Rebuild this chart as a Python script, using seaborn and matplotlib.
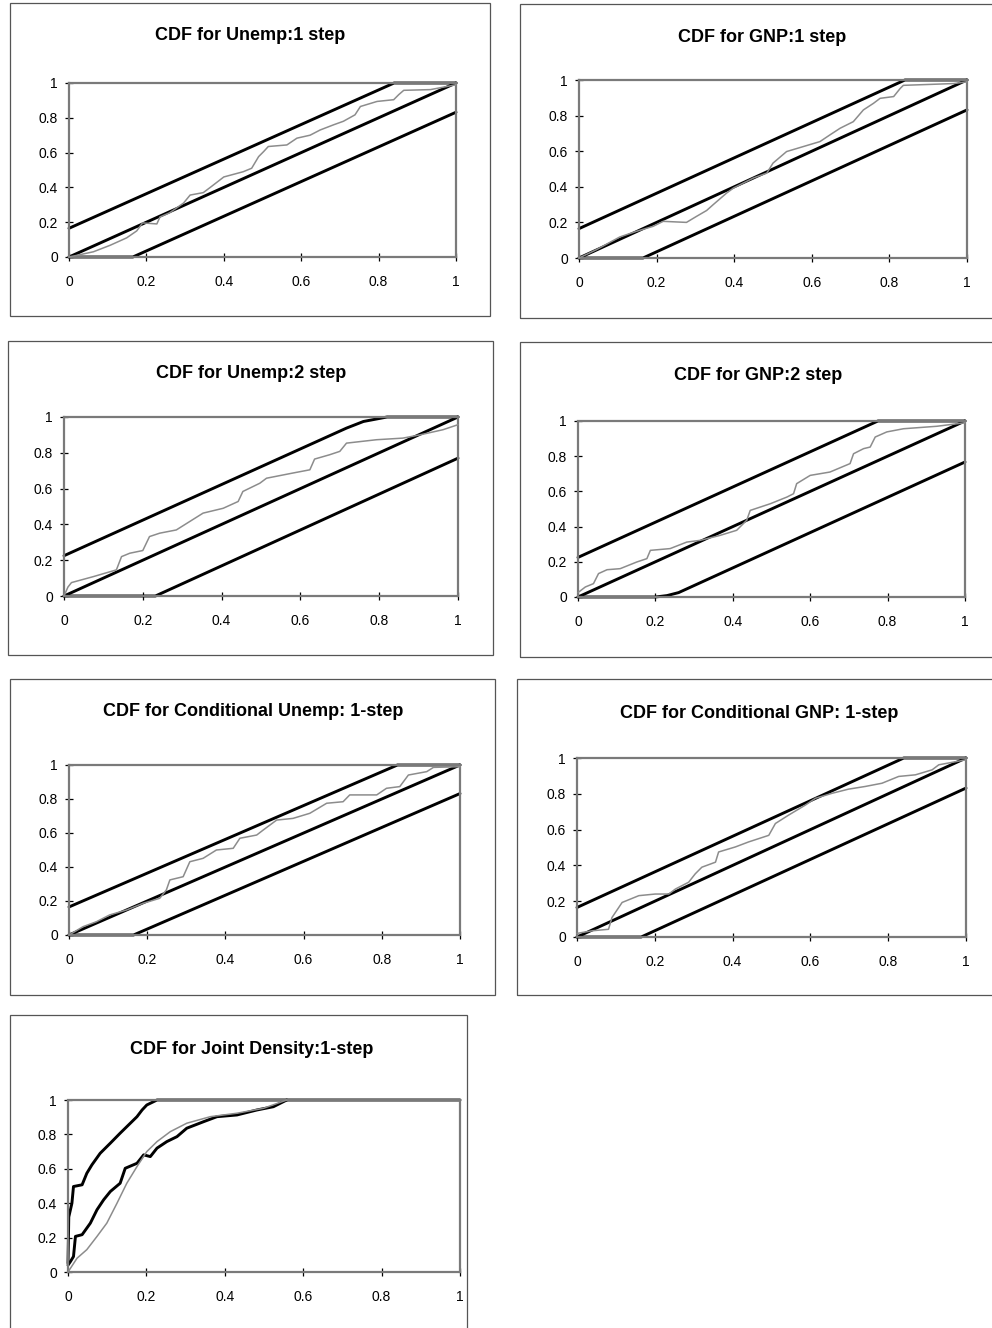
import numpy as np
import matplotlib
matplotlib.use("Agg")
import matplotlib.pyplot as plt
import seaborn as sns
import pandas as pd
from matplotlib.patches import Rectangle

sns.set_style("white")
plt.rcParams['font.family'] = ['Liberation Sans', 'DejaVu Sans']
plt.rcParams['text.color'] = 'black'
plt.rcParams['xtick.color'] = 'black'
plt.rcParams['ytick.color'] = 'black'

W, H = 992, 1328

# ---- data ----
ticks = [0, 0.2, 0.4, 0.6, 0.8, 1]
tick_labels = ['0', '0.2', '0.4', '0.6', '0.8', '1']

titles = ['CDF for Unemp:1 step', 'CDF for GNP:1 step',
          'CDF for Unemp:2 step', 'CDF for GNP:2 step',
          'CDF for Conditional Unemp: 1-step', 'CDF for Conditional GNP: 1-step',
          'CDF for Joint Density:1-step']

diag_x = [0, 1]
diag_y = [0, 1]

band1_upper_x = [0, 0.84, 1]
band1_upper_y = [0.165, 1, 1]
band1_lower_x = [0, 0.165, 1]
band1_lower_y = [0, 0, 0.832]

band_u2_upper_x = [0, 0.717, 0.76, 0.82, 1]
band_u2_upper_y = [0.225, 0.938, 0.975, 1, 1]
band_u2_lower_x = [0, 0.232, 1]
band_u2_lower_y = [0, 0, 0.77]

band_g2_upper_x = [0, 0.76, 0.775, 1]
band_g2_upper_y = [0.225, 0.985, 1, 1]
band_g2_lower_x = [0, 0.2, 0.23, 0.26, 1]
band_g2_lower_y = [0, 0, 0.008, 0.025, 0.767]

unemp1_x = [0, 0.063, 0.106, 0.149, 0.175, 0.19, 0.227, 0.235, 0.26, 0.296, 0.313, 0.347,
            0.365, 0.40, 0.45, 0.472, 0.49, 0.503, 0.515, 0.563, 0.589, 0.623, 0.649, 0.684,
            0.709, 0.739, 0.753, 0.796, 0.839, 0.852, 0.865, 0.934, 1]
unemp1_y = [0, 0.03, 0.067, 0.11, 0.15, 0.196, 0.19, 0.23, 0.254, 0.31, 0.356, 0.37,
            0.40, 0.46, 0.49, 0.51, 0.577, 0.606, 0.635, 0.644, 0.683, 0.70, 0.73, 0.76,
            0.78, 0.817, 0.865, 0.894, 0.904, 0.933, 0.958, 0.962, 0.99]

gnp1_x = [0, 0.045, 0.105, 0.148, 0.191, 0.217, 0.277, 0.303, 0.329, 0.346, 0.38, 0.398,
          0.449, 0.484, 0.50, 0.535, 0.578, 0.621, 0.647, 0.673, 0.707, 0.733, 0.759,
          0.776, 0.811, 0.828, 0.836, 0.966, 1]
gnp1_y = [0, 0.047, 0.118, 0.15, 0.178, 0.206, 0.20, 0.234, 0.267, 0.30, 0.364, 0.393,
          0.449, 0.477, 0.533, 0.598, 0.626, 0.654, 0.692, 0.729, 0.766, 0.832, 0.869,
          0.897, 0.907, 0.953, 0.97, 0.98, 0.99]

unemp2_x = [0, 0.01, 0.019, 0.074, 0.133, 0.146, 0.167, 0.20, 0.217, 0.243, 0.285, 0.319,
            0.353, 0.404, 0.442, 0.454, 0.497, 0.514, 0.581, 0.624, 0.636, 0.674, 0.70,
            0.717, 0.793, 0.86, 0.903, 0.962, 1]
unemp2_y = [0, 0.05, 0.075, 0.108, 0.146, 0.22, 0.239, 0.254, 0.332, 0.351, 0.369, 0.416,
            0.463, 0.49, 0.528, 0.584, 0.63, 0.658, 0.687, 0.705, 0.765, 0.789, 0.808,
            0.854, 0.873, 0.882, 0.90, 0.929, 0.957]

gnp2_x = [0, 0.019, 0.04, 0.053, 0.075, 0.109, 0.152, 0.178, 0.187, 0.238, 0.281, 0.316,
          0.367, 0.41, 0.436, 0.445, 0.497, 0.54, 0.557, 0.565, 0.60, 0.651, 0.703, 0.712,
          0.738, 0.755, 0.768, 0.798, 0.841, 0.927, 1]
gnp2_y = [0.025, 0.057, 0.076, 0.133, 0.155, 0.161, 0.199, 0.218, 0.265, 0.275, 0.312, 0.322,
          0.35, 0.379, 0.436, 0.492, 0.53, 0.568, 0.587, 0.644, 0.691, 0.71, 0.758, 0.814,
          0.843, 0.852, 0.909, 0.938, 0.956, 0.97, 0.99]

cunemp_x = [0, 0.036, 0.07, 0.104, 0.147, 0.189, 0.232, 0.249, 0.258, 0.292, 0.309, 0.343,
            0.377, 0.42, 0.437, 0.48, 0.497, 0.531, 0.573, 0.616, 0.659, 0.701, 0.718,
            0.787, 0.812, 0.846, 0.868, 0.915, 0.932, 1]
cunemp_y = [0, 0.049, 0.078, 0.118, 0.147, 0.186, 0.216, 0.265, 0.324, 0.343, 0.431, 0.451,
            0.50, 0.51, 0.569, 0.588, 0.618, 0.676, 0.686, 0.716, 0.775, 0.784, 0.824,
            0.824, 0.863, 0.873, 0.941, 0.961, 0.986, 0.99]

cgnp_x = [0, 0.04, 0.081, 0.09, 0.116, 0.159, 0.201, 0.236, 0.253, 0.287, 0.304, 0.321,
          0.356, 0.364, 0.407, 0.441, 0.493, 0.51, 0.544, 0.587, 0.613, 0.656, 0.698,
          0.741, 0.784, 0.827, 0.87, 0.913, 0.93, 1]
cgnp_y = [0.02, 0.035, 0.043, 0.109, 0.193, 0.231, 0.24, 0.24, 0.268, 0.306, 0.353, 0.39,
          0.418, 0.475, 0.503, 0.531, 0.568, 0.634, 0.681, 0.737, 0.775, 0.803, 0.826,
          0.841, 0.859, 0.897, 0.906, 0.934, 0.962, 0.99]

joint_hi_x = [0, 0.002, 0.01, 0.014, 0.036, 0.048, 0.061, 0.082, 0.108, 0.133, 0.146,
              0.176, 0.189, 0.201, 0.227, 1]
joint_hi_y = [0.05, 0.32, 0.40, 0.497, 0.507, 0.574, 0.623, 0.69, 0.749, 0.807, 0.836,
              0.903, 0.942, 0.971, 1.0, 1.0]

joint_mid_x = [0, 0.006, 0.014, 0.019, 0.036, 0.057, 0.074, 0.091, 0.108, 0.133, 0.146,
               0.176, 0.193, 0.21, 0.227, 0.252, 0.278, 0.303, 0.346, 0.38, 0.431, 0.482,
               0.524, 0.558]
joint_mid_y = [0.04, 0.06, 0.09, 0.207, 0.217, 0.284, 0.362, 0.42, 0.468, 0.516, 0.603,
               0.632, 0.681, 0.671, 0.72, 0.758, 0.787, 0.836, 0.874, 0.903, 0.913, 0.942,
               0.961, 1.0]

joint_emp_x = [0, 0.023, 0.048, 0.074, 0.099, 0.125, 0.15, 0.176, 0.201, 0.227, 0.261,
               0.303, 0.363, 0.431, 0.499, 0.558]
joint_emp_y = [0, 0.08, 0.13, 0.207, 0.284, 0.40, 0.516, 0.613, 0.70, 0.758, 0.816,
               0.865, 0.903, 0.923, 0.952, 1.0]

# ---- layout (pixels) ----
axes_px = [(69, 456, 83, 257), (579, 967, 80, 258),
           (64, 458, 417, 596), (578, 965, 421, 597),
           (69, 460, 765, 935), (577, 966, 758, 937),
           (68, 460, 1100, 1272)]
boxes_px = [(10, 490, 3, 316), (520, 998, 4, 318),
            (8, 493, 341, 655), (520, 998, 342, 657),
            (10, 495, 679, 995), (517, 998, 679, 995),
            (10, 467, 1015, 1335)]
title_px = [(250, 36), (762, 37), (251, 373), (758, 375),
            (253, 712), (759, 713), (252, 1049)]

panels = [
    [(band1_upper_x, band1_upper_y), (diag_x, diag_y), (band1_lower_x, band1_lower_y)],
    [(band1_upper_x, band1_upper_y), (diag_x, diag_y), (band1_lower_x, band1_lower_y)],
    [(band_u2_upper_x, band_u2_upper_y), (diag_x, diag_y), (band_u2_lower_x, band_u2_lower_y)],
    [(band_g2_upper_x, band_g2_upper_y), (diag_x, diag_y), (band_g2_lower_x, band_g2_lower_y)],
    [(band1_upper_x, band1_upper_y), (diag_x, diag_y), (band1_lower_x, band1_lower_y)],
    [(band1_upper_x, band1_upper_y), (diag_x, diag_y), (band1_lower_x, band1_lower_y)],
    [(joint_hi_x, joint_hi_y), (joint_mid_x, joint_mid_y)],
]
empirical = [(unemp1_x, unemp1_y), (gnp1_x, gnp1_y), (unemp2_x, unemp2_y), (gnp2_x, gnp2_y),
             (cunemp_x, cunemp_y), (cgnp_x, cgnp_y), (joint_emp_x, joint_emp_y)]

fig = plt.figure(figsize=(W / 100, H / 100), dpi=100)
fig.patch.set_facecolor('white')

for k in range(7):
    bl, br, bt, bb = boxes_px[k]
    fig.patches.append(Rectangle((bl / W, 1 - bb / H), (br - bl) / W, (bb - bt) / H,
                                 transform=fig.transFigure, fill=False,
                                 edgecolor='#555555', linewidth=0.9))
    l, r, t, b = axes_px[k]
    ax = fig.add_axes([l / W, 1 - b / H, (r - l) / W, (b - t) / H])

    ex, ey = empirical[k]
    sns.lineplot(x=ex, y=ey, ax=ax, color='#8c8c8c', linewidth=1.1,
                 sort=False, estimator=None, clip_on=False, zorder=3)
    for bx, by in panels[k]:
        sns.lineplot(x=bx, y=by, ax=ax, color='black', linewidth=2.1,
                     sort=False, estimator=None, clip_on=False, zorder=2)

    ax.set_xlim(0, 1)
    ax.set_ylim(0, 1)
    ax.set_xticks(ticks)
    ax.set_yticks(ticks)
    ax.set_xticklabels(tick_labels, fontsize=10)
    ax.set_yticklabels(tick_labels, fontsize=10)
    ax.set_xlabel('')
    ax.set_ylabel('')
    ax.tick_params(axis='both', bottom=True, left=True, direction='inout',
                   length=6, width=0.9, color='black', labelcolor='black')
    ax.tick_params(axis='x', pad=10)
    ax.tick_params(axis='y', pad=5)
    for sp in ax.spines.values():
        sp.set_visible(True)
        sp.set_linestyle((0, (1, 1)))
        sp.set_color('#7a7a7a')
        sp.set_linewidth(1.6)

    tx, ty = title_px[k]
    fig.text(tx / W, 1 - ty / H, titles[k], ha='center', va='center',
             fontsize=13, fontweight='bold', color='black')

fig.savefig('out.png', dpi=100)
